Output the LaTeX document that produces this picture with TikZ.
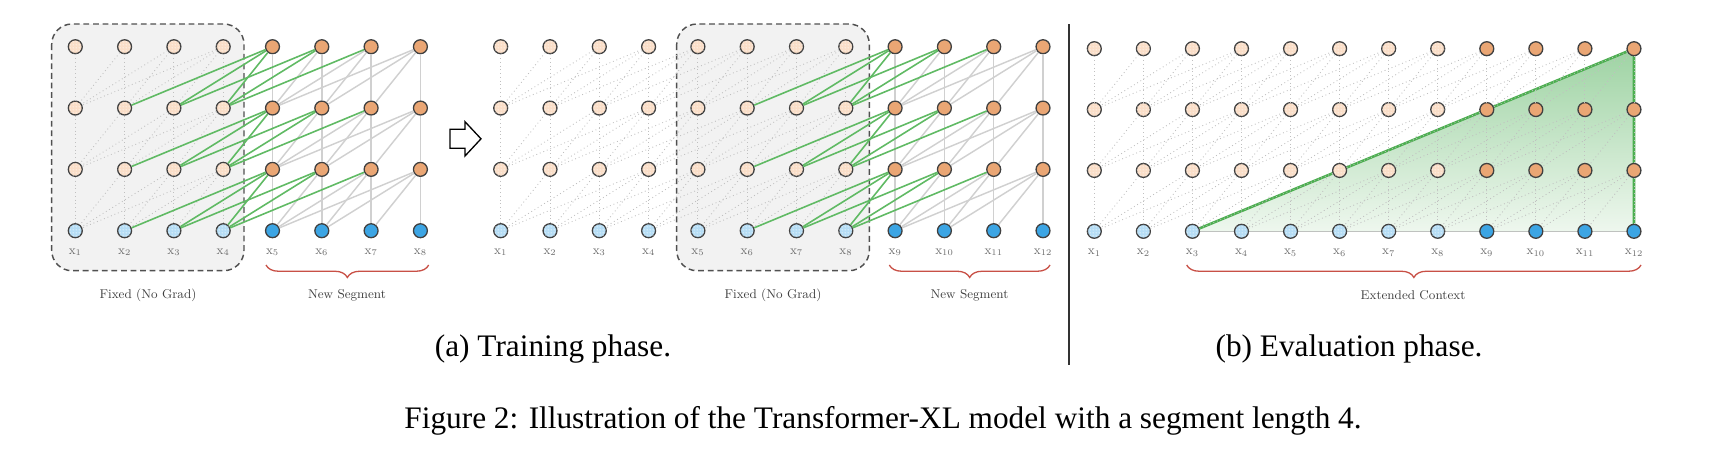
\documentclass[tikz,border=0pt]{standalone}
\usepackage{fontspec}
\newfontfamily\capfont{Liberation Serif}
\usetikzlibrary{decorations.pathreplacing,patterns.meta}
\definecolor{orS}{RGB}{234,166,116}
\definecolor{orL}{RGB}{250,222,200}
\definecolor{blS}{RGB}{60,165,228}
\definecolor{blL}{RGB}{182,221,245}
\definecolor{nodeB}{RGB}{64,64,64}
\definecolor{edgeG}{RGB}{208,208,208}
\definecolor{edgeD}{RGB}{192,192,192}
\definecolor{grn}{RGB}{96,186,100}
\definecolor{grnT}{RGB}{76,175,80}
\definecolor{boxF}{RGB}{242,242,242}
\definecolor{boxD}{RGB}{80,80,80}
\definecolor{brc}{RGB}{200,80,70}
\definecolor{lbl}{RGB}{110,110,110}
\definecolor{triTop}{RGB}{158,211,163}
\definecolor{triBot}{RGB}{238,247,238}
\newcommand{\smalltxt}[1]{\scalebox{0.5}{\fontsize{8.8}{10}\selectfont #1}}
\tikzset{
  nd/.style={circle, draw=nodeB, line width=0.45pt, minimum size=4.8pt, inner sep=0pt},
  ndOS/.style={nd, fill=orS},
  ndBS/.style={nd, fill=blS},
  ndOL/.style={nd, fill=orL, postaction={pattern={Dots[distance=0.9pt,radius=0.2pt]}, pattern color=white}},
  ndBL/.style={nd, fill=blL, postaction={pattern={Dots[distance=0.9pt,radius=0.2pt]}, pattern color=white}},
  ed/.style={draw=edgeD, line width=0.3pt, densely dotted},
  eg/.style={draw=edgeG, line width=0.5pt},
  eG/.style={draw=grn, line width=0.55pt},
  lab/.style={text=lbl, inner sep=0pt},
  seglab/.style={text=black!75, inner sep=0pt},
  memb/.style={fill=boxF, draw=boxD, line width=0.5pt, dash pattern=on 2pt off 1.3pt, rounded corners=7pt},
  brc/.style={draw=brc, line width=0.45pt, decorate, decoration={brace, mirror, amplitude=4.3pt}},
  capt/.style={font=\capfont\fontsize{10.8}{13}\selectfont, inner sep=0pt},
}
\begin{document}
\begin{tikzpicture}[x=0.345pt, y=-0.345pt]
\useasboundingbox (0,0) rectangle (1722,452);
% ---------- coordinates ----------
\foreach \i in {1,...,8} \foreach \l in {1,...,4} {
  \pgfmathsetmacro\xx{75.3+49.3*(\i-1)}
  \pgfmathsetmacro\yy{230.7-61.33*(\l-1)}
  \coordinate (pa-\i-\l) at (\xx,\yy);
}
\foreach \i in {1,...,12} \foreach \l in {1,...,4} {
  \pgfmathsetmacro\xx{500.7+49.3*(\i-1)}
  \pgfmathsetmacro\yy{230.7-61.33*(\l-1)}
  \coordinate (pb-\i-\l) at (\xx,\yy);
}
\foreach \i in {1,...,12} \foreach \l in {1,...,4} {
  \pgfmathsetmacro\xx{1094.3+49.06*(\i-1)}
  \pgfmathsetmacro\yy{231.3-60.87*(\l-1)}
  \coordinate (pc-\i-\l) at (\xx,\yy);
}
% ---------- memory boxes ----------
\draw[memb] (51.7,24) rectangle (244,270.7);
\draw[memb] (676.7,24) rectangle (869.3,270.7);
% ---------- triangle ----------
\fill[top color=triTop, bottom color=triBot] (pc-3-1) -- (pc-12-4) -- (pc-12-1) -- cycle;
\draw[grnT, line width=0.9pt, line join=round] (pc-3-1) -- (pc-12-4) -- (pc-12-1);
% ---------- nodes ----------
\foreach \i in {1,...,4} {
  \node[ndBL] (a-\i-1) at (pa-\i-1) {};
  \foreach \l in {2,3,4} \node[ndOL] (a-\i-\l) at (pa-\i-\l) {};
}
\foreach \i in {5,...,8} {
  \node[ndBS] (a-\i-1) at (pa-\i-1) {};
  \foreach \l in {2,3,4} \node[ndOS] (a-\i-\l) at (pa-\i-\l) {};
}
\foreach \i in {1,...,8} {
  \node[ndBL] (b-\i-1) at (pb-\i-1) {};
  \foreach \l in {2,3,4} \node[ndOL] (b-\i-\l) at (pb-\i-\l) {};
  \node[ndBL] (c-\i-1) at (pc-\i-1) {};
  \foreach \l in {2,3,4} \node[ndOL] (c-\i-\l) at (pc-\i-\l) {};
}
\foreach \i in {9,...,12} {
  \node[ndBS] (b-\i-1) at (pb-\i-1) {};
  \foreach \l in {2,3,4} \node[ndOS] (b-\i-\l) at (pb-\i-\l) {};
  \node[ndBS] (c-\i-1) at (pc-\i-1) {};
  \foreach \l in {2,3,4} \node[ndOS] (c-\i-\l) at (pc-\i-\l) {};
}
% ---------- edges panel a ----------
\foreach \i in {1,...,8} \foreach \l in {1,2,3} {
  \pgfmathtruncatemacro\lu{\l+1}
  \pgfmathtruncatemacro\jmin{max(1,\i-3)}
  \foreach \j in {\jmin,...,\i} {
    \ifnum\i<5 \draw[ed] (a-\i-\lu) -- (a-\j-\l);
    \else \ifnum\j>4 \draw[eg] (a-\i-\lu) -- (a-\j-\l); \fi
    \fi
  }
}
\foreach \i in {5,...,8} \foreach \l in {1,2,3} {
  \pgfmathtruncatemacro\lu{\l+1}
  \pgfmathtruncatemacro\jmin{\i-3}
  \foreach \j in {\jmin,...,\i} {
    \ifnum\j<5 \draw[eG] (a-\i-\lu) -- (a-\j-\l); \fi
  }
}
% ---------- edges panel b ----------
\foreach \i in {1,...,12} \foreach \l in {1,2,3} {
  \pgfmathtruncatemacro\lu{\l+1}
  \pgfmathtruncatemacro\jmin{max(1,\i-3)}
  \foreach \j in {\jmin,...,\i} {
    \ifnum\i<9 \draw[ed] (b-\i-\lu) -- (b-\j-\l);
    \else \ifnum\j>8 \draw[eg] (b-\i-\lu) -- (b-\j-\l); \fi
    \fi
  }
}
\foreach \i in {9,...,12} \foreach \l in {1,2,3} {
  \pgfmathtruncatemacro\lu{\l+1}
  \pgfmathtruncatemacro\jmin{\i-3}
  \foreach \j in {\jmin,...,\i} {
    \ifnum\j<9 \draw[eG] (b-\i-\lu) -- (b-\j-\l); \fi
  }
}
% ---------- edges panel c ----------
\foreach \i in {1,...,12} \foreach \l in {1,2,3} {
  \pgfmathtruncatemacro\lu{\l+1}
  \pgfmathtruncatemacro\jmin{max(1,\i-3)}
  \foreach \j in {\jmin,...,\i} {
    \draw[ed] (c-\i-\lu) -- (c-\j-\l);
  }
}
% ---------- token labels ----------
\foreach \i in {1,...,8} \path (pa-\i-1) ++(0,21.5) node[lab] (la-\i) {\smalltxt{$\mathrm{x}_{\i}$}};
\foreach \i in {1,...,12} \path (pb-\i-1) ++(0,21.5) node[lab] (lb-\i) {\smalltxt{$\mathrm{x}_{\i}$}};
\foreach \i in {1,...,12} \path (pc-\i-1) ++(0,21.5) node[lab] (lc-\i) {\smalltxt{$\mathrm{x}_{\i}$}};
% ---------- braces ----------
\coordinate (ba1) at (266,265);   \coordinate (ba2) at (428.7,265);
\coordinate (bb1) at (889.3,265); \coordinate (bb2) at (1050,265);
\coordinate (bc1) at (1186.7,265);\coordinate (bc2) at (1641,265);
\draw[brc] (ba1) -- (ba2);
\draw[brc] (bb1) -- (bb2);
\draw[brc] (bc1) -- (bc2);
\node[seglab] (fixA) at (148,295) {\smalltxt{Fixed (No Grad)}};
\node[seglab] (newA) at (347,295) {\smalltxt{New Segment}};
\node[seglab] (fixB) at (773,295) {\smalltxt{Fixed (No Grad)}};
\node[seglab] (newB) at (969.5,295) {\smalltxt{New Segment}};
\node[seglab] (ext) at (1413,295) {\smalltxt{Extended Context}};
% ---------- block arrow ----------
\draw[line width=0.45pt, fill=white, line join=miter] (450,129.3) -- (465,129.3) -- (465,121.7) -- (481,138.8) -- (465,156) -- (465,148.3) -- (450,148.3) -- cycle;
% ---------- separator ----------
\coordinate (sepT) at (1069,24);
\coordinate (sepB) at (1069,365);
\draw[line width=0.5pt, black!80] (sepT) -- (sepB);
% ---------- captions ----------
\node[capt] (capA) at (553,349) {(a) Training phase.};
\node[capt] (capB) at (1349,349) {(b) Evaluation phase.};
\node[capt] (capF) at (883,421) {Figure 2: Illustration of the Transformer-XL model with a segment length 4.};
\end{tikzpicture}
\end{document}
